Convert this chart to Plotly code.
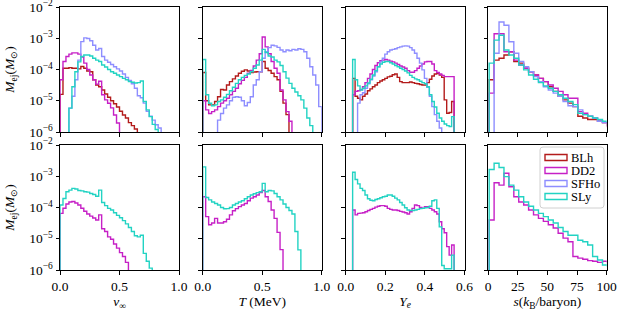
import numpy as np
import plotly.graph_objects as go

# ---------------- data ----------------
models = ["BLh", "DD2", "SFHo", "SLy"]

v_edges = np.linspace(0.0, 1.0, 41)
T_edges = np.linspace(0.0, 1.0, 41)
Ye_edges = 0.035 + 0.0125 * np.arange(42)
s_edges = 1.0 + 4.15 * np.arange(26)

# top row: v_inf
BLh_v_top = [1.6e-5, 1.1e-4, 1.1e-4, 1.15e-4, 1.1e-4, 1.1e-4, 1.05e-4, 1.25e-4, 1.1e-4, 9e-5,
             8.5e-5, 4.7e-5, 3.2e-5, 2.8e-5, 2.2e-5, 1.65e-5, 1.3e-5, 1.0e-5, 8e-6, 6.3e-6,
             4.6e-6, 3.5e-6, 2.8e-6, 2.0e-6, 1.6e-6, 1.25e-6, 0, 0, 0, 0,
             0, 0, 0, 0, 0, 0, 0, 0, 0, 0]
DD2_v_top = [4.7e-5, 1.8e-4, 2.6e-4, 3.1e-4, 3.4e-4, 3.4e-4, 3.1e-4, 2.5e-4, 1.6e-4, 1.0e-4,
             6.7e-5, 4.7e-5, 3.4e-5, 4.2e-5, 1.55e-5, 1.07e-5, 8.3e-6, 5.9e-6, 3.5e-6, 1.95e-6,
             0, 0, 0, 0, 0, 0, 0, 0, 0, 0,
             0, 0, 0, 0, 0, 0, 0, 0, 0, 0]
SFHo_v_top = [0, 0, 0, 5.8e-6, 1.4e-5, 4.7e-5, 2.0e-4, 7.8e-4, 1.03e-3, 9.8e-4,
              8.3e-4, 6.0e-4, 4.2e-4, 4.7e-4, 2.6e-4, 2.0e-4, 1.7e-4, 1.45e-4, 1.23e-4, 1.05e-4,
              9e-5, 7.2e-5, 5.6e-5, 4.5e-5, 3.5e-5, 2.5e-5, 1.45e-5, 1.25e-5, 8.4e-6, 4.6e-6,
              3.2e-6, 2.4e-6, 1.7e-6, 1.35e-6, 0, 0, 0, 0, 0, 0]
SLy_v_top = [0, 0, 0, 5.8e-6, 2.8e-5, 8.5e-5, 1.75e-4, 2.6e-4, 2.9e-4, 2.9e-4,
             2.7e-4, 2.3e-4, 2.0e-4, 1.8e-4, 1.4e-4, 1.2e-4, 1.0e-4, 8.5e-5, 7.6e-5, 6.7e-5,
             5.9e-5, 5.2e-5, 4.7e-5, 4.1e-5, 3.9e-5, 3.7e-5, 3.8e-5, 4.3e-5, 9.5e-6, 5.1e-6,
             3.1e-6, 1.75e-6, 1.2e-6, 0, 0, 0, 0, 0, 0, 0]

# top row: T
BLh_T_top = [8e-5, 1.0e-5, 7.4e-6, 7.4e-6, 9.5e-6, 1.35e-5, 2.3e-5, 2.2e-5, 3.2e-5, 4.1e-5,
             5e-5, 6.2e-5, 7.6e-5, 8.8e-5, 9.7e-5, 9e-5, 8e-5, 8.3e-5, 8.5e-5, 8.5e-5,
             1.8e-4, 1.1e-4, 9.3e-5, 7.6e-5, 5.9e-5, 4.7e-5, 2.0e-5, 8.4e-6, 3.6e-6, 0,
             0, 0, 0, 0, 0, 0, 0, 0, 0, 0]
DD2_T_top = [1.0e-5, 5.1e-6, 3.9e-6, 4.5e-6, 5.1e-6, 6.5e-6, 8.4e-6, 1.0e-5, 1.2e-5, 1.55e-5,
             2.0e-5, 2.5e-5, 3.5e-5, 4.5e-5, 5.6e-5, 7.6e-5, 9.3e-5, 1.3e-4, 2.0e-4, 3.2e-4,
             1.1e-3, 5.3e-4, 3.2e-4, 1.8e-4, 1.1e-4, 7.6e-5, 2.2e-5, 1.07e-5, 4.5e-6, 2.2e-6,
             0, 0, 0, 0, 0, 0, 0, 0, 0, 0]
SFHo_T_top = [0, 0, 0, 0, 0, 2.4e-6, 3.9e-6, 5.8e-6, 7.4e-6, 1.0e-5,
              1.3e-5, 1.35e-5, 1.3e-5, 1.0e-5, 6.9e-6, 8.8e-6, 1.35e-5, 3.2e-5, 4.7e-5, 8.5e-5,
              2.3e-4, 3.7e-4, 5.0e-4, 6.0e-4, 5.7e-4, 5.1e-4, 4.2e-4, 3.7e-4, 4.2e-4, 4.0e-4,
              4.4e-4, 4.2e-4, 4.6e-4, 4.4e-4, 3.7e-4, 2.3e-4, 1.23e-4, 6.7e-5, 3.2e-5, 6.5e-6]
SLy_T_top = [2.1e-4, 1.55e-5, 8.3e-6, 6.9e-6, 7.4e-6, 9.5e-6, 1.07e-5, 1.3e-5, 1.6e-5, 2.1e-5,
             2.7e-5, 3.6e-5, 4.7e-5, 5.6e-5, 6.5e-5, 7.2e-5, 8.5e-5, 1.1e-4, 1.4e-4, 2.0e-4,
             4.4e-4, 3.5e-4, 2.7e-4, 2.5e-4, 2.0e-4, 1.75e-4, 1.35e-4, 8.5e-5, 5.3e-5, 3.6e-5,
             2.5e-5, 1.9e-5, 1.45e-5, 1.07e-5, 5.8e-6, 2.8e-6, 1.6e-6, 0, 0, 0]

# top row: Ye
BLh_Ye_top = [5.2e-5, 1.4e-5, 1.2e-5, 1.07e-5, 1.4e-5, 1.65e-5, 2.1e-5, 2.4e-5, 2.8e-5, 3.2e-5,
              3.8e-5, 4.3e-5, 4.7e-5, 5.2e-5, 5.8e-5, 6.1e-5, 6.8e-5, 7.2e-5, 5.6e-5, 4.1e-5,
              3.8e-5, 3.8e-5, 3.8e-5, 4.0e-5, 3.8e-5, 3.6e-5, 3.5e-5, 3.3e-5, 3.2e-5, 3.2e-5,
              3.8e-5, 4.9e-5, 6.2e-5, 7.2e-5, 7.6e-5, 6.7e-5, 5.6e-5, 1.07e-5, 4.0e-6, 4.2e-6,
              9.5e-6]
DD2_Ye_top = [1.55e-5, 2.0e-5, 2.1e-5, 2.3e-5, 2.8e-5, 3.8e-5, 5.2e-5, 7.2e-5, 1.0e-4, 1.35e-4,
              1.65e-4, 1.9e-4, 2.0e-4, 2.1e-4, 2.0e-4, 1.85e-4, 1.75e-4, 1.6e-4, 1.45e-4, 1.3e-4,
              1.2e-4, 1.1e-4, 9.2e-5, 8.2e-5, 8.2e-5, 9.2e-5, 1.1e-4, 1.3e-4, 1.5e-4, 1.75e-4,
              1.8e-4, 1.8e-4, 1.5e-4, 9.2e-5, 8.0e-5, 7.2e-5, 6.5e-5, 5.9e-5, 5.9e-5, 5.9e-5,
              5.9e-5]
SFHo_Ye_top = [0, 0, 8.4e-6, 1.55e-5, 1.8e-5, 2.5e-5, 3.5e-5, 4.7e-5, 6.2e-5, 8.5e-5,
               1.23e-4, 1.75e-4, 2.3e-4, 3.1e-4, 3.7e-4, 4.2e-4, 4.4e-4, 4.6e-4, 5.0e-4, 5.3e-4,
               5.6e-4, 5.7e-4, 5.6e-4, 5.0e-4, 4.2e-4, 3.3e-4, 2.3e-4, 1.6e-4, 9.7e-5, 5.2e-5,
               2.7e-5, 1.4e-5, 6.5e-6, 3.6e-6, 2.2e-6, 1.35e-6, 0, 0, 0, 0,
               0]
SLy_Ye_top = [2.1e-4, 4.7e-5, 3.0e-5, 2.2e-5, 2.5e-5, 3.0e-5, 3.7e-5, 4.9e-5, 6.7e-5, 9.2e-5,
              1.23e-4, 1.5e-4, 1.7e-4, 1.8e-4, 1.8e-4, 1.65e-4, 1.5e-4, 1.35e-4, 1.23e-4, 1.1e-4,
              1.0e-4, 9e-5, 7.8e-5, 6.5e-5, 5.6e-5, 5.0e-5, 4.7e-5, 4.2e-5, 3.8e-5, 3.5e-5,
              2.8e-5, 1.55e-5, 9.5e-6, 6.3e-6, 4.0e-6, 2.8e-6, 2.2e-6, 1.8e-6, 1.6e-6, 1.5e-6,
              3.1e-6]

# top row: entropy
BLh_s_top = [4.7e-5, 2.0e-4, 2.3e-4, 2.9e-4, 3.7e-4, 1.8e-4, 1.6e-4, 1.1e-4, 8.5e-5, 6.7e-5,
             5.2e-5, 4.1e-5, 2.8e-5, 2.0e-5, 1.4e-5, 1.07e-5, 8.4e-6, 6.5e-6, 3.2e-6, 2.8e-6,
             2.5e-6, 2.5e-6, 2.2e-6, 2.0e-6, 1.6e-6]
DD2_s_top = [1.75e-5, 1.4e-3, 1.4e-3, 3.7e-4, 3.7e-4, 2.0e-4, 1.4e-4, 1.1e-4, 8.5e-5, 6.7e-5,
             5.2e-5, 4.1e-5, 3.2e-5, 2.5e-5, 2.0e-5, 1.55e-5, 1.2e-5, 1.2e-5, 4.5e-6, 4.0e-6,
             3.2e-6, 2.8e-6, 2.2e-6, 2.0e-6, 1.5e-6]
SFHo_s_top = [0, 3.3e-4, 3.3e-3, 2.6e-3, 7.7e-4, 3.3e-4, 1.8e-4, 1.23e-4, 8.5e-5, 5.9e-5,
              4.1e-5, 2.8e-5, 2.2e-5, 1.75e-5, 1.4e-5, 9.5e-6, 6.9e-6, 6.5e-6, 5.1e-6, 3.6e-6,
              3.2e-6, 2.8e-6, 2.2e-6, 2.0e-6, 1.75e-6]
SLy_s_top = [1.6e-4, 8.7e-4, 1.25e-3, 4.2e-4, 2.9e-4, 2.3e-4, 1.4e-4, 9.7e-5, 6.7e-5, 4.9e-5,
             3.8e-5, 3.0e-5, 2.5e-5, 2.0e-5, 1.55e-5, 1.2e-5, 9.5e-6, 7.5e-6, 4.0e-6, 3.6e-6,
             3.2e-6, 2.8e-6, 2.5e-6, 2.2e-6, 2.0e-6]

# bottom row
DD2_v_bot = [6.5e-5, 9.5e-5, 1.3e-4, 1.5e-4, 1.55e-4, 1.4e-4, 1.2e-4, 9.5e-5, 7.6e-5, 6.2e-5,
             5.3e-5, 4.6e-5, 4.0e-5, 5.8e-5, 2.1e-5, 1.7e-5, 1.15e-5, 9.6e-6, 6.8e-6, 5.0e-6,
             3.6e-6, 2.7e-6, 1.75e-6, 0, 0, 0, 0, 0, 0, 0,
             0, 0, 0, 0, 0, 0, 0, 0, 0, 0]
SLy_v_bot = [1.2e-4, 1.95e-4, 3.2e-4, 3.6e-4, 4.1e-4, 3.9e-4, 3.5e-4, 3.4e-4, 3.2e-4, 3.1e-4,
             2.8e-4, 2.6e-4, 2.3e-4, 3.6e-4, 1.45e-4, 1.15e-4, 9.4e-5, 8.3e-5, 6.8e-5, 5.6e-5,
             4.7e-5, 3.8e-5, 3.0e-5, 2.3e-5, 1.7e-5, 1.25e-5, 1.15e-5, 1.3e-5, 3.4e-6, 1.9e-6,
             1.15e-6, 0, 0, 0, 0, 0, 0, 0, 0, 0]
DD2_T_bot = [2.2e-4, 5.1e-5, 2.8e-5, 3.2e-5, 4.5e-5, 3.2e-5, 3.2e-5, 3.5e-5, 4.2e-5, 5.8e-5,
             7.9e-5, 9.2e-5, 1.07e-4, 1.2e-4, 1.35e-4, 1.65e-4, 2.0e-4, 2.2e-4, 2.5e-4, 3.0e-4,
             3.5e-4, 2.2e-4, 1.55e-4, 8.3e-5, 4.5e-5, 1.6e-5, 4.5e-6, 0, 0, 0,
             0, 0, 0, 0, 0, 0, 0, 0, 0, 0]
SLy_T_bot = [2.0e-3, 2.1e-4, 1.75e-4, 1.5e-4, 1.35e-4, 1.2e-4, 1.0e-4, 9.1e-5, 9.2e-5, 1.0e-4,
             1.2e-4, 1.35e-4, 1.5e-4, 1.65e-4, 1.9e-4, 2.2e-4, 2.5e-4, 2.75e-4, 3.0e-4, 3.2e-4,
             5.9e-4, 3.2e-4, 3.5e-4, 3.4e-4, 2.8e-4, 2.2e-4, 1.75e-4, 1.3e-4, 1.0e-4, 8e-5,
             6.2e-5, 1.7e-5, 4.4e-6, 0, 0, 0, 0, 0, 0, 0]
DD2_Ye_bot = [8.3e-5, 5.8e-5, 6.5e-5, 6.6e-5, 6.8e-5, 7.3e-5, 8.0e-5, 8.7e-5, 9.4e-5, 1.03e-4,
              1.1e-4, 1.15e-4, 1.15e-4, 1.1e-4, 9.4e-5, 8.7e-5, 8.3e-5, 8.3e-5, 8.0e-5, 7.5e-5,
              7.2e-5, 6.8e-5, 6.2e-5, 7.3e-5, 9.4e-5, 1.2e-4, 1.15e-4, 1.0e-4, 9.4e-5, 1.07e-4,
              1.07e-4, 9.4e-5, 8.3e-5, 7.3e-5, 6.2e-5, 3.5e-5, 2.1e-5, 1.55e-5, 5.6e-6, 3.0e-6,
              6.3e-6]
SLy_Ye_bot = [1.35e-3, 7.9e-4, 5.7e-4, 4.1e-4, 3.5e-4, 2.5e-4, 1.9e-4, 1.7e-4, 1.65e-4, 1.8e-4,
              1.9e-4, 2.05e-4, 2.2e-4, 2.3e-4, 2.5e-4, 2.5e-4, 2.3e-4, 2.0e-4, 1.75e-4, 1.45e-4,
              1.2e-4, 9.8e-5, 8.3e-5, 8.0e-5, 8.0e-5, 8.3e-5, 8.7e-5, 9.2e-5, 9.4e-5, 9.8e-5,
              1.0e-4, 1.1e-4, 1.65e-4, 1.75e-4, 9.4e-5, 2.4e-5, 1.4e-6, 1.1e-6, 1.1e-6, 1.1e-6,
              3.0e-6]
DD2_s_bot = [4.0e-5, 6.2e-4, 5.2e-4, 1.25e-3, 4.6e-4, 2.2e-4, 1.5e-4, 1.2e-4, 8.3e-5, 5.8e-5,
             4.5e-5, 3.6e-5, 2.8e-5, 2.2e-5, 1.5e-5, 1.05e-5, 8.0e-6, 2.7e-6, 2.4e-6, 2.2e-6,
             2.0e-6, 1.9e-6, 1.75e-6, 1.9e-6, 1.7e-6]
SLy_s_bot = [1.65e-3, 2.6e-3, 1.9e-3, 9.7e-4, 5.2e-4, 3.6e-4, 2.2e-4, 1.5e-4, 1.1e-4, 8.3e-5,
             6.5e-5, 5.1e-5, 4.0e-5, 3.2e-5, 2.3e-5, 1.7e-5, 1.3e-5, 1.3e-5, 9.0e-6, 8.0e-6,
             6.3e-6, 2.7e-6, 2.1e-6, 1.45e-6, 1.35e-6]

x_titles = ["<i>v</i><sub>∞</sub>", "<i>T</i> (MeV)", "<i>Y</i><sub><i>e</i></sub>",
            "<i>s</i>(<i>k</i><sub>B</sub>/baryon)"]
x_ranges = [[0, 1], [0, 1], [0, 0.6], [0, 100]]
x_tickvals = [[0, 0.5, 1.0], [0, 0.5, 1.0], [0, 0.2, 0.4, 0.6], [0, 25, 50, 75, 100]]
x_ticktext = [["0.0", "0.5", "1.0"], ["0.0", "0.5", "1.0"], ["0.0", "0.2", "0.4", "0.6"],
              ["0", "25", "50", "75", "100"]]
y_tickvals = [1e-6, 1e-5, 1e-4, 1e-3, 1e-2]
y_ticktext = ["10<sup>−6</sup>", "10<sup>−5</sup>", "10<sup>−4</sup>", "10<sup>−3</sup>", "10<sup>−2</sup>"]

# ---------------- style ----------------
colors = {"BLh": "#b31b1b", "DD2": "#c620c6", "SFHo": "#8e8eff", "SLy": "#22d3c3"}
FONT = "Liberation Serif"
FLOOR = 1e-9

edges_by_col = [v_edges, T_edges, Ye_edges, s_edges]
top = [
    {"BLh": BLh_v_top, "DD2": DD2_v_top, "SFHo": SFHo_v_top, "SLy": SLy_v_top},
    {"BLh": BLh_T_top, "DD2": DD2_T_top, "SFHo": SFHo_T_top, "SLy": SLy_T_top},
    {"BLh": BLh_Ye_top, "DD2": DD2_Ye_top, "SFHo": SFHo_Ye_top, "SLy": SLy_Ye_top},
    {"BLh": BLh_s_top, "DD2": DD2_s_top, "SFHo": SFHo_s_top, "SLy": SLy_s_top},
]
bottom = [
    {"DD2": DD2_v_bot, "SLy": SLy_v_bot},
    {"DD2": DD2_T_bot, "SLy": SLy_T_bot},
    {"DD2": DD2_Ye_bot, "SLy": SLy_Ye_bot},
    {"DD2": DD2_s_bot, "SLy": SLy_s_bot},
]

W, H = 620, 314
col_px = [(60, 179), (202.7, 321.7), (345.7, 464.5), (488, 606.7)]
row_px = [(7, 132), (145, 270)]


def px(x):
    return x / W


def py(y):
    return 1 - y / H


def step_xy(edges, vals):
    v = [y if y > 0 else FLOOR for y in vals]
    xs = [float(edges[0])] + [float(e) for e in edges[:len(v)]] + [float(edges[len(v)])]
    ys = [FLOOR] + v + [FLOOR]
    return xs, ys


fig = go.Figure()
layout = {}
for r, rowdata in enumerate([top, bottom]):
    for c in range(4):
        i = r * 4 + c + 1
        xa = "x" if i == 1 else f"x{i}"
        ya = "y" if i == 1 else f"y{i}"
        for m in models:
            if m not in rowdata[c]:
                continue
            xs, ys = step_xy(edges_by_col[c], rowdata[c][m])
            fig.add_trace(go.Scatter(
                x=xs, y=ys, mode="lines", line=dict(color=colors[m], width=1.4, shape="hv"),
                name=m, showlegend=False, xaxis=xa, yaxis=ya, hoverinfo="skip"))
        x0, x1 = col_px[c]
        y0, y1 = row_px[r]
        axis_common = dict(showline=True, linecolor="black", linewidth=1, mirror=True,
                           ticks="outside", ticklen=3.5, tickwidth=0.9, tickcolor="black",
                           showgrid=False, zeroline=False, automargin=False,
                           ticklabeloverflow="allow",
                           tickfont=dict(family=FONT, size=13.5, color="black"))
        xdict = dict(axis_common, domain=[px(x0), px(x1)], range=x_ranges[c],
                     anchor=ya, tickmode="array", tickvals=x_tickvals[c],
                     ticktext=x_ticktext[c], showticklabels=(r == 1))
        if r == 1:
            xdict["title"] = dict(text=x_titles[c], standoff=3,
                                  font=dict(family=FONT, size=13.5, color="black"))
        ydict = dict(axis_common, domain=[py(y1), py(y0)], type="log",
                     range=[-6, -2], anchor=xa, tickmode="array", tickvals=y_tickvals,
                     ticktext=y_ticktext, showticklabels=(c == 0))
        if c == 0:
            ydict["title"] = dict(text="<i>M</i><sub>ej</sub>(<i>M</i><sub>⊙</sub>)", standoff=11,
                                  font=dict(family=FONT, size=13.5, color="black"))
        layout["xaxis" if i == 1 else f"xaxis{i}"] = xdict
        layout["yaxis" if i == 1 else f"yaxis{i}"] = ydict

# legend (matplotlib-style box with outlined patches)
shapes = []
annotations = []
bx0, bx1, by0, by1, rr = 540, 604, 147, 208, 3
shapes.append(dict(
    type="path", xref="paper", yref="paper",
    path=(f"M {px(bx0 + rr)},{py(by0)} L {px(bx1 - rr)},{py(by0)} "
          f"Q {px(bx1)},{py(by0)} {px(bx1)},{py(by0 + rr)} L {px(bx1)},{py(by1 - rr)} "
          f"Q {px(bx1)},{py(by1)} {px(bx1 - rr)},{py(by1)} L {px(bx0 + rr)},{py(by1)} "
          f"Q {px(bx0)},{py(by1)} {px(bx0)},{py(by1 - rr)} L {px(bx0)},{py(by0 + rr)} "
          f"Q {px(bx0)},{py(by0)} {px(bx0 + rr)},{py(by0)} Z"),
    line=dict(color="#d0d0d0", width=1), fillcolor="rgba(255,255,255,0.85)", layer="above"))
for k, m in enumerate(models):
    yc = 157.5 + 13 * k
    shapes.append(dict(type="rect", xref="paper", yref="paper",
                       x0=px(545), x1=px(567), y0=py(yc + 3), y1=py(yc - 3),
                       line=dict(color=colors[m], width=1.4), fillcolor="rgba(0,0,0,0)",
                       layer="above"))
    annotations.append(dict(text=m, xref="paper", yref="paper", x=px(569), y=py(yc),
                            xanchor="left", yanchor="middle", showarrow=False,
                            font=dict(family=FONT, size=12.5, color="black")))

fig.update_layout(**layout)
fig.update_layout(
    template="none",
    width=W, height=H,
    margin=dict(l=0, r=0, t=0, b=0, pad=0),
    paper_bgcolor="white", plot_bgcolor="white",
    font=dict(family=FONT, size=13, color="black"),
    showlegend=False,
    shapes=shapes,
    annotations=annotations,
)

fig.write_html("out.html", config={"displayModeBar": False},
               post_script="document.body.style.margin='0px';")
